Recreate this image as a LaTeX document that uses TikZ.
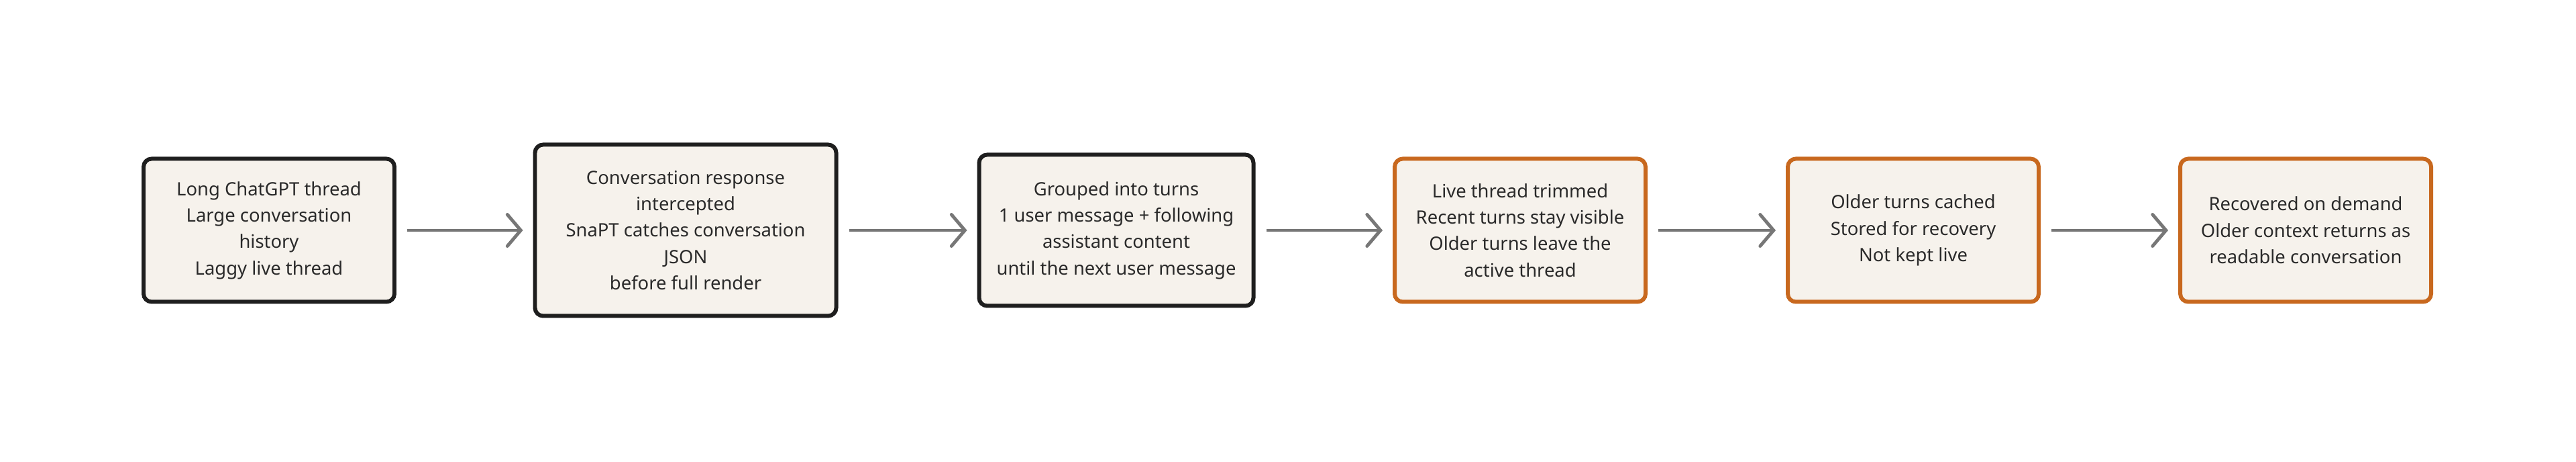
\documentclass[tikz,border=0pt]{standalone}
\usepackage{fontspec}
\setmainfont{Noto Sans}
\usetikzlibrary{arrows.meta,positioning}
\definecolor{boxfill}{HTML}{F6F2EC}
\definecolor{boxdark}{HTML}{1E1E1E}
\definecolor{boxorange}{HTML}{C8681E}
\definecolor{flowgray}{HTML}{777777}
\definecolor{txt}{HTML}{2A2A2A}
\tikzset{
  stage/.style={draw=boxdark,line width=1.7pt,fill=boxfill,rounded corners=0.12cm,
    align=center,text=txt,font=\fontsize{7.8}{11.2}\selectfont,minimum height=2.13cm,
    minimum width=3.74cm,inner sep=0pt},
  late/.style={stage,draw=boxorange},
  flow/.style={draw=flowgray,line width=1.4pt,shorten <=0.16cm,shorten >=0.15cm,
    -{Straight Barb[length=2mm,width=4.7mm,line cap=round]}}
}
\begin{document}
\begin{tikzpicture}
    \useasboundingbox (0,0) rectangle (38.4,6.88);
    %% Steps of the flow
    \node[stage] (long) at (4.01,3.45)
      {Long ChatGPT thread\\Large conversation\\history\\Laggy live thread};
    \node[stage,minimum width=4.49cm,minimum height=2.55cm] (intercept) at (10.22,3.45)
      {Conversation response\\intercepted\\SnaPT catches conversation\\JSON\\before full render};
    \node[stage,minimum width=4.09cm,minimum height=2.25cm] (turns) at (16.64,3.45)
      {Grouped into turns\\1 user message + following\\assistant content\\until the next user message};
    \node[late] (trim) at (22.66,3.45)
      {Live thread trimmed\\Recent turns stay visible\\Older turns leave the\\active thread};
    \node[late] (cache) at (28.52,3.45)
      {Older turns cached\\Stored for recovery\\Not kept live};
    \node[late] (recover) at (34.37,3.45)
      {Recovered on demand\\Older context returns as\\readable conversation};
    % Connectors
    \draw[flow] (long) -- (intercept);
    \draw[flow] (intercept) -- (turns);
    \draw[flow] (turns) -- (trim);
    \draw[flow] (trim) -- (cache);
    \draw[flow] (cache) -- (recover);
\end{tikzpicture}
\end{document}
